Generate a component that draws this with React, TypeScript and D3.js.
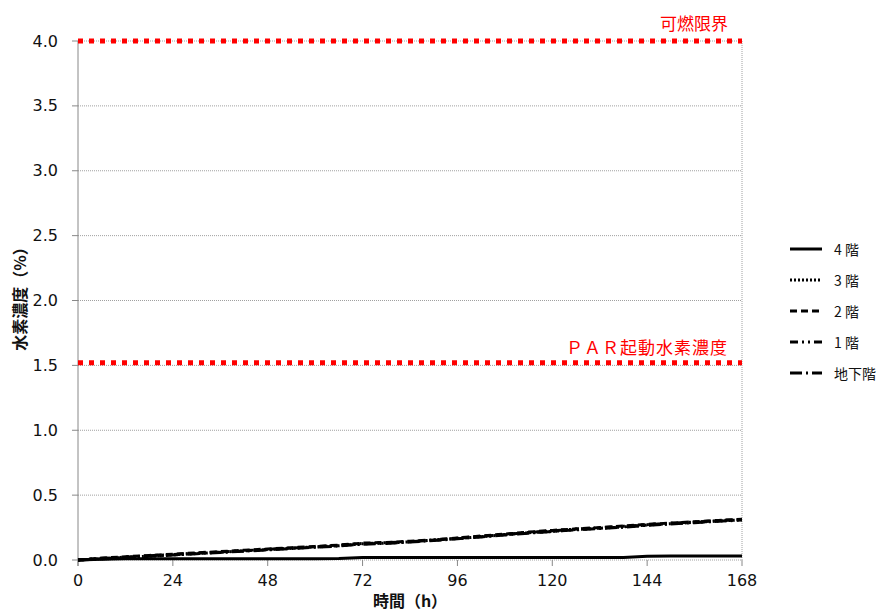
import React from "react";
import * as d3 from "d3";

const hours = [0, 6, 12, 18, 24, 30, 36, 42, 48, 54, 60, 66, 72, 78, 84, 90, 96, 102, 108, 114, 120, 126, 132, 138, 144, 150, 156, 162, 168];
const floor4 = [0.0, 0.005, 0.01, 0.01, 0.01, 0.01, 0.01, 0.01, 0.01, 0.01, 0.01, 0.012, 0.02, 0.02, 0.02, 0.02, 0.02, 0.02, 0.02, 0.02, 0.02, 0.02, 0.02, 0.02, 0.028, 0.03, 0.03, 0.03, 0.03];
const floor3 = [0.0, 0.01, 0.02, 0.03, 0.04, 0.05, 0.06, 0.07, 0.08, 0.09, 0.1, 0.11, 0.125, 0.13, 0.14, 0.155, 0.165, 0.18, 0.195, 0.21, 0.22, 0.235, 0.245, 0.255, 0.27, 0.28, 0.29, 0.3, 0.31];
const floor2 = [0.0, 0.015, 0.025, 0.035, 0.045, 0.055, 0.065, 0.075, 0.085, 0.095, 0.105, 0.115, 0.13, 0.135, 0.145, 0.155, 0.17, 0.185, 0.2, 0.215, 0.228, 0.24, 0.25, 0.262, 0.275, 0.285, 0.295, 0.305, 0.315];
const floor1 = [0.0, 0.012, 0.022, 0.032, 0.042, 0.052, 0.062, 0.072, 0.082, 0.092, 0.102, 0.112, 0.127, 0.133, 0.142, 0.152, 0.167, 0.182, 0.197, 0.212, 0.225, 0.238, 0.248, 0.26, 0.272, 0.283, 0.293, 0.303, 0.313];
const basement = [0.0, 0.008, 0.018, 0.028, 0.038, 0.048, 0.058, 0.068, 0.078, 0.088, 0.098, 0.108, 0.122, 0.128, 0.138, 0.15, 0.163, 0.178, 0.193, 0.207, 0.22, 0.232, 0.243, 0.253, 0.268, 0.278, 0.288, 0.298, 0.308];

const seriesNames = ["4 階", "3 階", "2 階", "1 階", "地下階"];
const seriesData = [floor4, floor3, floor2, floor1, basement];
const dashes = ["", "2 2", "7 4", "8 4 2 4 2 4", "12 4 2 4"];

const xTicks = [0, 24, 48, 72, 96, 120, 144, 168];
const yTicks = [0, 0.5, 1.0, 1.5, 2.0, 2.5, 3.0, 3.5, 4.0];
const flammableLimit = 4.0;
const parLevel = 1.52;

export default function App() {
  const x = d3.scaleLinear().domain([0, 168]).range([78, 742]);
  const y = d3.scaleLinear().domain([0, 4]).range([560, 41]);
  const line = d3
    .line<number>()
    .x((_, i) => x(hours[i]))
    .y((d) => y(d));
  const font = "Verdana, 'DejaVu Sans', sans-serif";
  const jp = "'Noto Sans CJK JP', sans-serif";
  return (
    <svg width={883} height={611} style={{ position: "absolute", left: 0, top: 0, background: "#fff" }}>
      {yTicks.map((t) => (
        <g key={t}>
          {t > 0 && (
            <line x1={x(0)} x2={x(168)} y1={y(t)} y2={y(t)} stroke="#a0a0a0" strokeWidth={1} strokeDasharray="1 1" />
          )}
          <line x1={x(0) - 6} x2={x(0)} y1={y(t)} y2={y(t)} stroke="#888" />
          <text x={58} y={y(t)} textAnchor="end" dominantBaseline="central" fontFamily={font} fontSize={16} fill="#111">
            {t.toFixed(1)}
          </text>
        </g>
      ))}
      <line x1={x(0)} x2={x(168)} y1={y(0)} y2={y(0)} stroke="#a0a0a0" strokeDasharray="1 1" />
      <line x1={x(168)} x2={x(168)} y1={y(4)} y2={y(0)} stroke="#a0a0a0" strokeDasharray="1 1" />
      <line x1={x(0)} x2={x(0)} y1={y(4)} y2={y(0) + 6} stroke="#888" />
      {xTicks.map((t) => (
        <g key={t}>
          <line x1={x(t)} x2={x(t)} y1={y(0)} y2={y(0) + 6} stroke="#888" />
          <text x={x(t)} y={580} textAnchor="middle" dominantBaseline="central" fontFamily={font} fontSize={16} fill="#111">
            {t}
          </text>
        </g>
      ))}
      <line x1={x(0)} x2={x(168)} y1={y(flammableLimit)} y2={y(flammableLimit)} stroke="#ff0000" strokeWidth={5} strokeDasharray="5 6" />
      <line x1={x(0)} x2={x(168)} y1={y(parLevel)} y2={y(parLevel)} stroke="#ff0000" strokeWidth={5} strokeDasharray="5 6" />
      <text x={728} y={22} textAnchor="end" dominantBaseline="central" fontFamily={jp} fontSize={17} fill="#ff0000">
        可燃限界
      </text>
      <text x={728} y={346} textAnchor="end" dominantBaseline="central" fontFamily={jp} fontSize={17} fill="#ff0000" letterSpacing={1}>
        ＰＡＲ起動水素濃度
      </text>
      {seriesData.map((s, i) => (
        <path key={i} d={line(s) || ""} fill="none" stroke="#000" strokeWidth={3} strokeDasharray={dashes[i] || undefined} />
      ))}
      {seriesNames.map((n, i) => (
        <g key={n}>
          <line x1={790} x2={822} y1={249 + i * 31} y2={249 + i * 31} stroke="#000" strokeWidth={3} strokeDasharray={dashes[i] || undefined} />
          <text x={834} y={249 + i * 31} dominantBaseline="central" fontFamily={jp} fontSize={14} fill="#111">
            {n}
          </text>
        </g>
      ))}
      <text transform="translate(19,295) rotate(-90)" textAnchor="middle" dominantBaseline="central" fontFamily={jp} fontSize={16} fontWeight="bold" fill="#111">
        水素濃度（%）
      </text>
      <text x={410} y={600} textAnchor="middle" dominantBaseline="central" fontFamily={jp} fontSize={16} fontWeight="bold" fill="#111">
        時間（h）
      </text>
    </svg>
  );
}
